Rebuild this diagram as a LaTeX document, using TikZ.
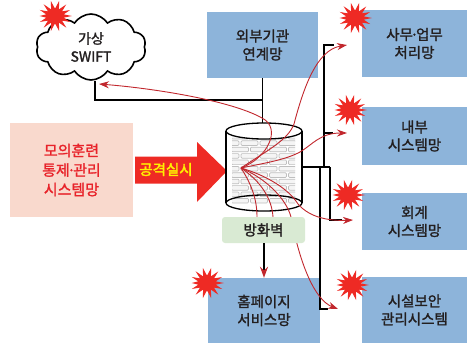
\documentclass[tikz,border=0pt]{standalone}
\usepackage{fontspec}
\setmainfont{Noto Sans CJK KR}[FakeBold=1.6]
\newfontfamily\heavyfont{Noto Sans CJK KR}[FakeBold=2.4]
\usetikzlibrary{shapes.symbols,arrows.meta,calc}
\definecolor{netblue}{HTML}{8DB4DA}
\definecolor{simpink}{HTML}{F9D9CD}
\definecolor{fwgreen}{HTML}{D9EAD3}
\definecolor{hitred}{HTML}{EE2A24}
\definecolor{flowred}{HTML}{C1272D}
\definecolor{txt}{HTML}{231F20}
\definecolor{simtext}{HTML}{E8232A}
\definecolor{atkyellow}{HTML}{FFF200}
% tight middle dot between words
\newcommand{\mdot}{\kern-2.5pt·\kern-2.5pt}
% spiky explosion marker around a named coordinate
\newcommand{\hitstar}[1]{%
  \fill[hitred] ($(#1)+(17,0)$)
    \foreach \k [evaluate=\k as \rr using {mod(\k,2)==1 ? 8 : 13.5+3.5*abs(sin(\k*77))}] in {1,...,27} {
      -- ($(#1)+({1.12*\rr*cos(\k*360/28)},{0.92*\rr*sin(\k*360/28)})$) } -- cycle;}
\begin{document}
\begin{tikzpicture}[x=1pt,y=-1pt,
  label font/.style={font=\fontsize{14.5}{18}\selectfont},
  netbox/.style={fill=netblue, text=txt, align=center, inner sep=0, label font},
  wire/.style={line width=1.6pt, draw=black},
  flow/.style={draw=flowred, line width=0.9pt, -{Stealth[length=10pt,width=7pt]}},
  plainflow/.style={draw=flowred, line width=0.9pt},
  brick/.style={fill=gray!8, draw=gray!50, line width=0.7pt, rounded corners=1pt},
]
\useasboundingbox (0,0) rectangle (467,343);

% network boxes
\node[netbox, minimum width=111pt, minimum height=66pt] (ext)  at (262.5,45)  {외부기관\\연계망};
\node[netbox, minimum width=105pt, minimum height=67pt] (office) at (414.5,43.5) {사무\mdot 업무\\처리망};
\node[netbox, minimum width=105pt, minimum height=58pt] (inner) at (414.5,136) {내부\\시스템망};
\node[netbox, minimum width=105pt, minimum height=57pt] (acct) at (414.5,221.5) {회계\\시스템망};
\node[netbox, minimum width=105pt, minimum height=66pt] (fac) at (414.5,310) {시설보안\\관리시스템};
\node[netbox, minimum width=112pt, minimum height=65pt] (home) at (264,310.5) {홈페이지\\서비스망};

% drill control system
\node[fill=simpink, text=simtext, align=center, inner sep=0, minimum width=123pt,
  minimum height=94pt, font=\fontsize{15}{19.5}\selectfont] (sim) at (71.5,170)
  {모의훈련\\통제\mdot 관리\\시스템망};

% attack arrow
\fill[hitred] ($(sim.east)+(2,-13.5)$) -- (197,156.5) -- (197,142)
  -- (227,171) -- (197,202) -- (197,183.5) -- ($(sim.east)+(2,13.5)$) -- cycle;
\node[text=atkyellow, font=\fontsize{14.5}{16}\heavyfont] (atk) at (166,169.5) {공격실시};

% virtual SWIFT cloud
\node[cloud, cloud puffs=10, cloud puff arc=115, draw=black, line width=1.6pt, fill=white,
  minimum width=110pt, minimum height=66pt, inner sep=0, align=center,
  font=\fontsize{14}{18}\selectfont, text=txt] (swift) at (91,47) {가상\\SWIFT};

% wires to the external network box
\draw[wire] ($(swift.south)+(4,0)$) |- ($(ext.south)+(0,22)$);
\coordinate (fwtop) at (262.5,123);
\draw[wire] (ext.south) -- (fwtop);

% firewall cylinder
\coordinate (F) at (241,168);
\fill[white] (226,131) rectangle (302,203);
\fill[white] (264,203) ellipse (38 and 8);
\begin{scope}
  \clip (232,127) rectangle (295,206);
  \foreach \r in {0,...,11} {
    \pgfmathsetmacro\yy{128+\r*6.4}
    \pgfmathsetmacro\off{mod(\r,2)*9.5}
    \foreach \c in {0,...,4} {
      \draw[brick] (222+\off+\c*19,\yy) rectangle ++(17,4.6);
    }
  }
\end{scope}
\fill[white] (264,131) ellipse (38 and 8);
\draw[line width=1.3pt] (264,131) ellipse (38 and 8);
\draw[line width=1.3pt] (264,203) ellipse (38 and 8);
\draw[line width=1.3pt] (226,131) -- (226,203) (302,131) -- (302,203);

% wires on the inside network side
\coordinate (tipOffice) at (347,45);
\coordinate (tipInner) at (347,133);
\coordinate (tipAcct) at (353,220);
\coordinate (tipFac) at (338,309);
\coordinate (tipCloud) at (99,84);
\draw[wire] (302,167) -- (330,167);
\draw[wire] (324,167) |- (334,45);
\draw[wire] (324,133) -- (333,133);
\draw[wire] (330,167) |- (342,220);
\draw[wire] (320,167) |- (328,309);

% attack paths fanning out from the firewall
\draw[flow] (F) .. controls (268,158) and (282,128) .. (262,118)
  .. controls (230,100) and (150,88) .. (tipCloud);
\draw[flow] (F) .. controls (268,150) and (288,140) .. (294,124)
  .. controls (303,90) and (316,50) .. (tipOffice);
\draw[flow] (F) .. controls (265,163) and (285,160) .. (300,152)
  .. controls (312,145) and (320,133) .. (tipInner);
\draw[flow] (F) .. controls (265,175) and (288,188) .. (298,204)
  .. controls (310,218) and (330,221) .. (tipAcct);
\draw[plainflow] (F) .. controls (252,185) and (257,200) .. (257,217);
\draw[plainflow] (F) .. controls (262,182) and (272,200) .. (273,217);
\draw[flow] (F) .. controls (265,178) and (286,198) .. (291,217)
  .. controls (300,265) and (315,300) .. (tipFac);

% firewall label
\node[fill=fwgreen, rounded corners=3pt, minimum width=83pt, minimum height=26pt,
  inner sep=0, text=txt, font=\fontsize{14.5}{16}\selectfont] (fwlabel) at (263.5,230) {방화벽};
\draw[wire, -{Stealth[length=11pt,width=8pt,color=flowred]}] (fwlabel.south -| home.north) -- (home.north);

% hit markers
\coordinate (h0) at (55,16);
\coordinate (h1) at (355,18);
\coordinate (h2) at (350,110);
\coordinate (h3) at (348,195);
\coordinate (h4) at (352,285);
\coordinate (h5) at (207,283);
\foreach \h in {h0,h1,h2,h3,h4,h5} { \hitstar{\h} }
\end{tikzpicture}
\end{document}
